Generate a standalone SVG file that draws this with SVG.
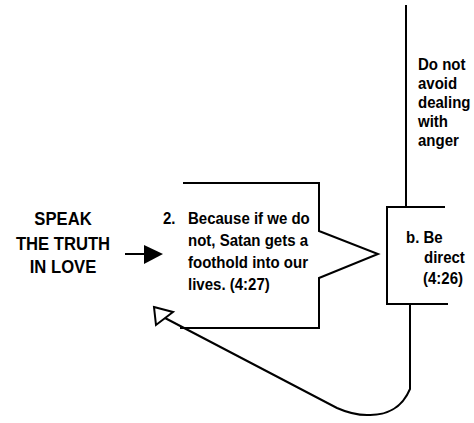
<svg xmlns="http://www.w3.org/2000/svg" width="474" height="423" viewBox="0 0 474 423">
<style>
text { font-family: "Liberation Sans", Arial, sans-serif; font-weight: bold; fill: #000; }
.ln { fill: none; stroke: #000; stroke-width: 2; }
.big { font-size: 18.5px; }
.sm { font-size: 16.5px; }
</style>
<rect width="474" height="423" fill="#fff"/>
<g id="speak">
<text class="big" text-anchor="middle" transform="matrix(0.9 0 0 1 63 225)">SPEAK</text>
<text class="big" text-anchor="middle" transform="matrix(0.9 0 0 1 63 250)">THE TRUTH</text>
<text class="big" text-anchor="middle" transform="matrix(0.9 0 0 1 63 273)">IN LOVE</text>
</g>
<g id="callout">
<path class="ln" d="M183,183 L319,183 L319,231 L378,254 L319,278 L319,328 L180,328"/>
<text class="sm" transform="matrix(0.91 0 0 1 163 224)">2.</text>
<text class="sm" transform="matrix(0.91 0 0 1 188 224)">Because if we do</text>
<text class="sm" transform="matrix(0.91 0 0 1 188 246)">not, Satan gets a</text>
<text class="sm" transform="matrix(0.91 0 0 1 188 268)">foothold into our</text>
<text class="sm" transform="matrix(0.91 0 0 1 188 290)">lives. (4:27)</text>
</g>
<g id="direct">
<path class="ln" d="M445,207 L387,207 L387,304 L448,304"/>
<text class="sm" transform="matrix(0.91 0 0 1 406 243)">b. Be</text>
<text class="sm" transform="matrix(0.91 0 0 1 424 263)">direct</text>
<text class="sm" transform="matrix(0.91 0 0 1 423 284)">(4:26)</text>
</g>
<g id="anger">
<text class="sm" transform="matrix(0.91 0 0 1 418 70)">Do not</text>
<text class="sm" transform="matrix(0.91 0 0 1 418 89)">avoid</text>
<text class="sm" transform="matrix(0.91 0 0 1 418 108)">dealing</text>
<text class="sm" transform="matrix(0.91 0 0 1 418 127)">with</text>
<text class="sm" transform="matrix(0.91 0 0 1 418 146)">anger</text>
</g>
<g id="connectors">
<line class="ln" x1="406" y1="5" x2="406" y2="207"/>
<line class="ln" x1="125" y1="254" x2="146" y2="254"/>
<polygon points="144,245 163,254 144,264" fill="#000"/>
<path class="ln" d="M410,304 L410,389 C402,408 386,416 367,415 C355,415 346,412 337,408 L165,318"/>
<polygon points="154,307 173,312 156,325" fill="#fff" stroke="#000" stroke-width="2" stroke-linejoin="miter"/>
</g>
</svg>
